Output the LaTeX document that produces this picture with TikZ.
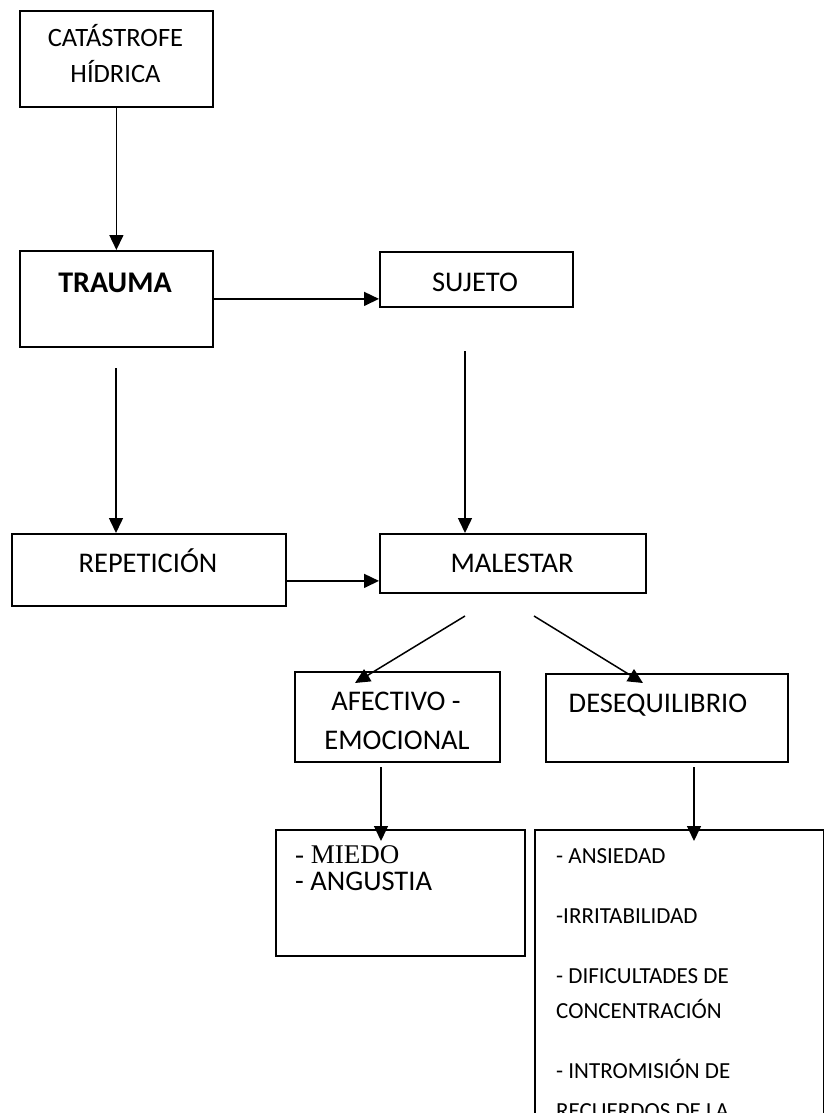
\documentclass[tikz,border=0pt]{standalone}
\usepackage{fontspec}
\setmainfont{Carlito}
\newfontfamily\tnr{Liberation Serif}
\usetikzlibrary{arrows.meta}
\begin{document}
\begin{tikzpicture}[x=1pt,y=-1pt,
  box/.style={draw, line width=1.8pt, rectangle, inner sep=0pt, anchor=north west},
  txt/.style={anchor=base, inner sep=0pt, font=\fontsize{28.5}{34}\selectfont},
  ltxt/.style={anchor=base west, inner sep=0pt, font=\fontsize{23}{28}\selectfont},
  arr/.style={line width=1.5pt, -{Triangle[length=15pt,width=14pt]}}]
\clip (0,0) rectangle (824,1113);
\fill[white] (0,0) rectangle (824,1113);
% boxes
\node[box, minimum width=193pt, minimum height=96pt] (cat) at (19,10) {};
\node[box, minimum width=193pt, minimum height=96pt] (trauma) at (19,250) {};
\node[box, minimum width=193pt, minimum height=55pt] (sujeto) at (379,251) {};
\node[box, minimum width=274pt, minimum height=72pt] (rep) at (11,533) {};
\node[box, minimum width=266pt, minimum height=59pt] (mal) at (379,533) {};
\node[box, minimum width=205pt, minimum height=90pt] (afect) at (294,671) {};
\node[box, minimum width=242pt, minimum height=88pt] (deseq) at (545,673) {};
\node[box, minimum width=249pt, minimum height=126pt] (miedo) at (275,829) {};
\node[box, minimum width=289pt, minimum height=320pt] (last) at (534,829) {};
% texts
\node[txt, font=\fontsize{26.5}{30}\selectfont] (t1a) at (115.5,47) {CATÁSTROFE};
\node[txt, font=\fontsize{26.5}{30}\selectfont] (t1b) at (115.5,83) {HÍDRICA};
\node[txt, font=\fontsize{30}{34}\selectfont\bfseries] (t2) at (115,292) {TRAUMA};
\node[txt] (t3) at (475,291) {SUJETO};
\node[txt] (t4) at (148,572) {REPETICIÓN};
\node[txt] (t5) at (512,572) {MALESTAR};
\node[txt] (t6a) at (396,710) {AFECTIVO -};
\node[txt] (t6b) at (397,749) {EMOCIONAL};
\node[txt] (t7) at (658,712) {DESEQUILIBRIO};
\node[txt, anchor=base west, font=\fontsize{27}{32}\tnr] (t8a) at (295,863) {- MIEDO};
\node[txt, anchor=base west] (t8b) at (295,890) {- ANGUSTIA};
\node[ltxt] (t9a) at (556,863) {- ANSIEDAD};
\node[ltxt] (t9b) at (556,923) {-IRRITABILIDAD};
\node[ltxt] (t9c) at (556,983) {- DIFICULTADES DE};
\node[ltxt] (t9d) at (556,1018) {CONCENTRACIÓN};
\node[ltxt] (t9e) at (556,1078) {- INTROMISIÓN DE};
\node[ltxt] (t9f) at (556,1118) {RECUERDOS DE LA};
% free ends
\coordinate (p1) at (116,368);
\coordinate (p2) at (465,351);
\coordinate (m1) at (465,616);
\coordinate (a1) at (355,683);
\coordinate (m2) at (534,616);
\coordinate (d1) at (643,683);
\coordinate (e1) at (381,767);
\coordinate (e2) at (381,841);
\coordinate (f1) at (694,767);
\coordinate (f2) at (694,841);
% connectors
\draw[arr] (cat.south) -- (trauma.north);
\draw[arr] (trauma.east) -- (trauma.east -| sujeto.west);
\draw[arr] (p1) -- (p1 |- rep.north);
\draw[arr] (p2) -- (p2 |- mal.north);
\draw[arr] ([yshift=-11pt]rep.east) -- ([yshift=-11pt]rep.east -| mal.west);
\draw[arr] (m1) -- (a1);
\draw[arr] (m2) -- (d1);
\draw[arr] (e1) -- (e2);
\draw[arr] (f1) -- (f2);
\end{tikzpicture}
\end{document}
